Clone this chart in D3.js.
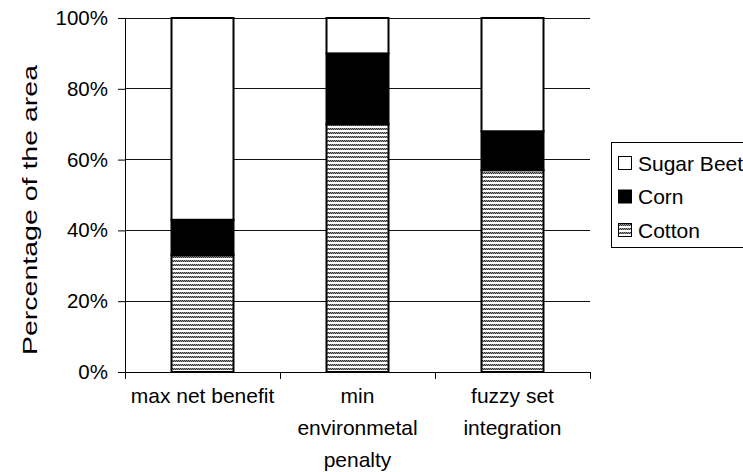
<!DOCTYPE html>
<html>
<head>
<meta charset="utf-8">
<script src="https://cdn.jsdelivr.net/npm/d3@7/dist/d3.min.js"></script>
<style>
  html, body { margin: 0; padding: 0; background: #fff; }
  svg { display: block; font-family: "Liberation Sans", Arial, sans-serif; }
</style>
</head>
<body>
<svg id="chart" width="743" height="472"></svg>
<script>
// Land allocation by planning strategy (percent of area)
const categories = [
  ["max net benefit"],
  ["min", "environmetal", "penalty"],
  ["fuzzy set", "integration"]
];
const categoryKeys = ["max net benefit", "min environmetal penalty", "fuzzy set integration"];
const cotton = [33, 70, 57];
const corn = [10, 20, 11];
const sugarBeet = [57, 10, 32];
const seriesNames = ["Cotton", "Corn", "Sugar Beet"];
const yTicks = [0, 20, 40, 60, 80, 100];

const svg = d3.select("#chart");
const plotLeft = 125, plotRight = 590, plotTop = 18, plotBottom = 372;

// hatch pattern for the cotton segments
const defs = svg.append("defs");
const pat = defs.append("pattern")
  .attr("id", "wave").attr("patternUnits", "userSpaceOnUse")
  .attr("width", 4).attr("height", 4);
pat.append("rect").attr("width", 4).attr("height", 4).attr("fill", "#fff");
[[0,0,"#333"],[2,0,"#333"],[1,0,"#999"],[3,0,"#999"],
 [1,1,"#333"],[3,1,"#333"],[0,1,"#999"],[2,1,"#999"]].forEach(([px, py, c]) =>
  pat.append("rect").attr("x", px).attr("y", py).attr("width", 1).attr("height", 1).attr("fill", c));

const fills = { "Cotton": "url(#wave)", "Corn": "#000", "Sugar Beet": "#fff" };

const x = d3.scaleBand().domain(categoryKeys).range([plotLeft, plotRight])
  .paddingInner(0.6).paddingOuter(0.3);
const y = d3.scaleLinear().domain([0, 100]).range([plotBottom, plotTop]);

// gridlines
svg.append("g").selectAll("line").data(yTicks.filter(d => d > 0)).join("line")
  .attr("x1", plotLeft).attr("x2", plotRight)
  .attr("y1", d => y(d)).attr("y2", d => y(d))
  .attr("stroke", "#111").attr("stroke-width", 1).attr("shape-rendering", "crispEdges");

// stacked bars
const table = categoryKeys.map((k, i) => ({
  key: k, "Cotton": cotton[i], "Corn": corn[i], "Sugar Beet": sugarBeet[i]
}));
const stack = d3.stack().keys(seriesNames)(table);
svg.append("g").selectAll("g").data(stack).join("g")
  .attr("fill", d => fills[d.key])
  .selectAll("rect").data(d => d).join("rect")
  .attr("x", d => x(d.data.key))
  .attr("width", x.bandwidth())
  .attr("y", d => y(d[1]))
  .attr("height", d => y(d[0]) - y(d[1]))
  .attr("stroke", "#000").attr("stroke-width", 2);

// y axis
const yAxis = svg.append("g").attr("transform", `translate(${plotLeft},0)`)
  .call(d3.axisLeft(y).tickValues(yTicks).tickFormat(d => d + "%").tickSizeOuter(0).tickSize(7).tickPadding(10));
yAxis.select(".domain").attr("stroke", "#000");
yAxis.selectAll("text").attr("font-size", 20.5).attr("fill", "#000")
  .attr("font-family", "Liberation Sans, Arial, sans-serif");

// x axis: line with separators between categories
const xAxisG = svg.append("g");
xAxisG.append("line").attr("x1", plotLeft).attr("x2", plotRight).attr("y1", plotBottom).attr("y2", plotBottom)
  .attr("stroke", "#000").attr("shape-rendering", "crispEdges");
const bounds = d3.range(categoryKeys.length + 1).map(i => plotLeft + i * x.step());
xAxisG.selectAll("line.sep").data(bounds).join("line").attr("class", "sep")
  .attr("x1", d => d).attr("x2", d => d).attr("y1", plotBottom).attr("y2", plotBottom + 7)
  .attr("stroke", "#000").attr("shape-rendering", "crispEdges");

// category labels
const labelG = svg.append("g").attr("font-size", 21).attr("text-anchor", "middle");
categories.forEach((lines, i) => {
  const cx = x(categoryKeys[i]) + x.bandwidth() / 2;
  lines.forEach((ln, j) => {
    labelG.append("text").attr("x", cx).attr("y", 403 + j * 32).text(ln);
  });
});

// y axis title
svg.append("text")
  .attr("transform", "translate(37,210) rotate(-90)")
  .attr("text-anchor", "middle")
  .attr("font-size", 21)
  .attr("textLength", 290).attr("lengthAdjust", "spacingAndGlyphs")
  .text("Percentage of the area");

// legend
const lg = svg.append("g");
lg.append("rect").attr("x", 611.5).attr("y", 142.5).attr("width", 140).attr("height", 105)
  .attr("fill", "#fff").attr("stroke", "#000");
const legendOrder = ["Sugar Beet", "Corn", "Cotton"];
legendOrder.forEach((name, i) => {
  const cy = 163 + i * 33.5;
  lg.append("rect").attr("x", 618.5).attr("y", cy - 6.5).attr("width", 13).attr("height", 13)
    .attr("fill", fills[name]).attr("stroke", "#000");
  lg.append("text").attr("x", 638).attr("y", cy + 7.5).attr("font-size", 21).text(name);
});
</script>
</body>
</html>
